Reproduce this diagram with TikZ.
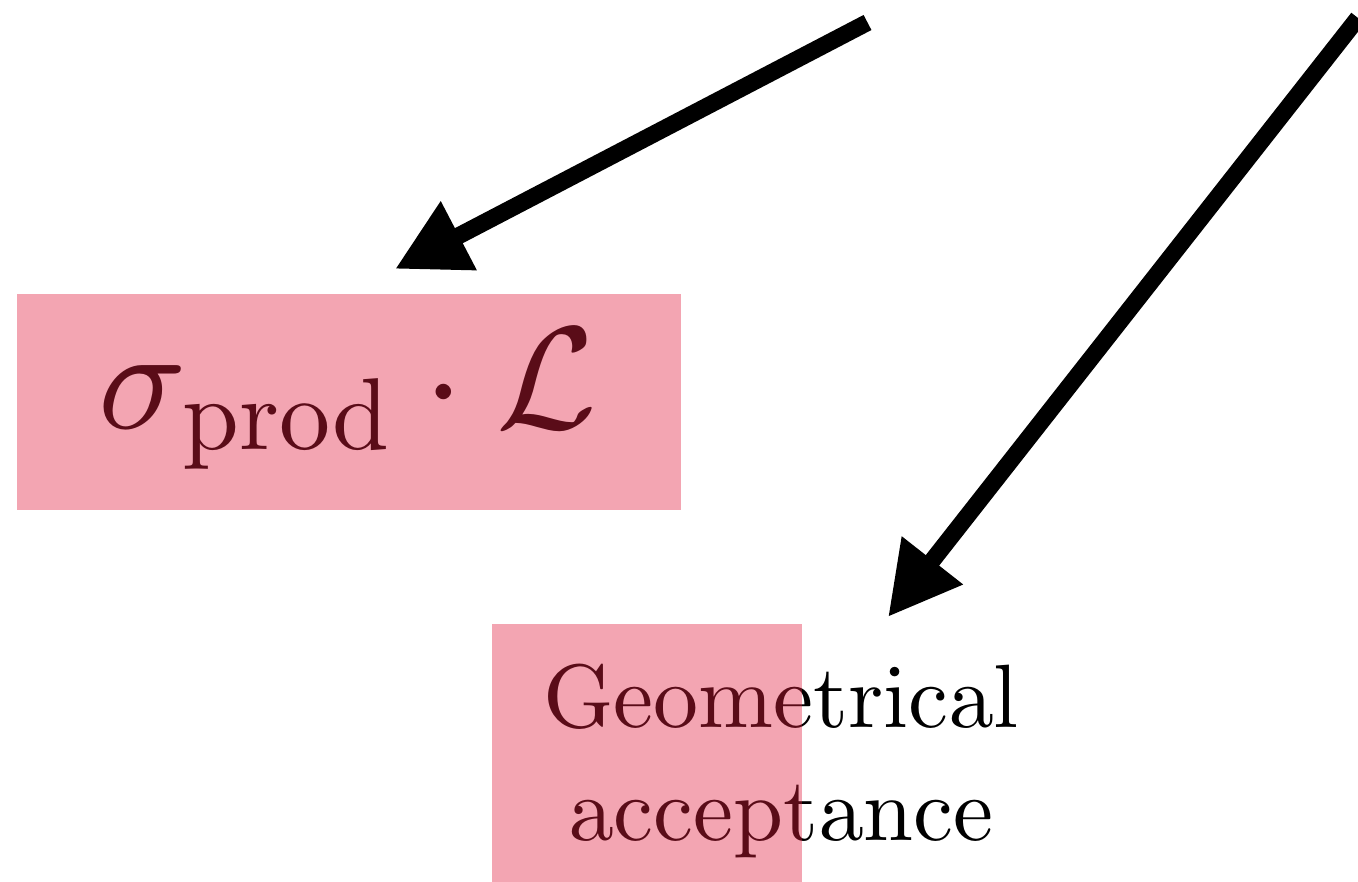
\documentclass[tikz,border=0pt]{standalone}
\usetikzlibrary{arrows.meta}
\DeclareFontShape{OT1}{cmr}{m}{n}{<->cmr10}{}
\DeclareFontShape{OML}{cmm}{m}{it}{<->cmmi10}{}
\DeclareFontShape{OMS}{cmsy}{m}{n}{<->cmsy10}{}
\DeclareFontShape{OMX}{cmex}{m}{n}{<->cmex10}{}
\definecolor{boxred}{RGB}{225,30,62}
\tikzset{
  overlay box/.style={draw=none, fill=boxred, fill opacity=0.4, inner sep=0pt, outer sep=0pt},
  bigarrow/.style={line width=8.5pt, -{Triangle[length=36pt,width=36.5pt]}},
  label text/.style={inner sep=0pt, outer sep=0pt, text=black}
}
\begin{document}
\begin{tikzpicture}[x=0.5pt,y=-0.5pt]
\useasboundingbox (0,0) rectangle (1358,882);
% texts
\node[label text, anchor=base, font=\fontsize{73}{88}\selectfont] (xs) at (348,428) {$\sigma_{\mathrm{prod}}\cdot\mathcal{L}$};
\node[label text, align=center, anchor=center, font=\fontencoding{OT1}\fontfamily{cmr}\fontsize{45}{56.5}\selectfont] (geo) at (781,761) {Geometrical\\acceptance};
% translucent boxes laid over the text
\path[overlay box] (17,294) rectangle (681,510);
\path[overlay box] (492,624) rectangle (802,884);
% arrow ends
\coordinate (s1) at (867.5,22.5);
\coordinate (t1) at (395,269);
\coordinate (s2) at (1358,18);
\coordinate (t2) at (888,617);
\draw[bigarrow] (s1) -- (t1);
\draw[bigarrow] (s2) -- (t2);
\end{tikzpicture}
\end{document}
